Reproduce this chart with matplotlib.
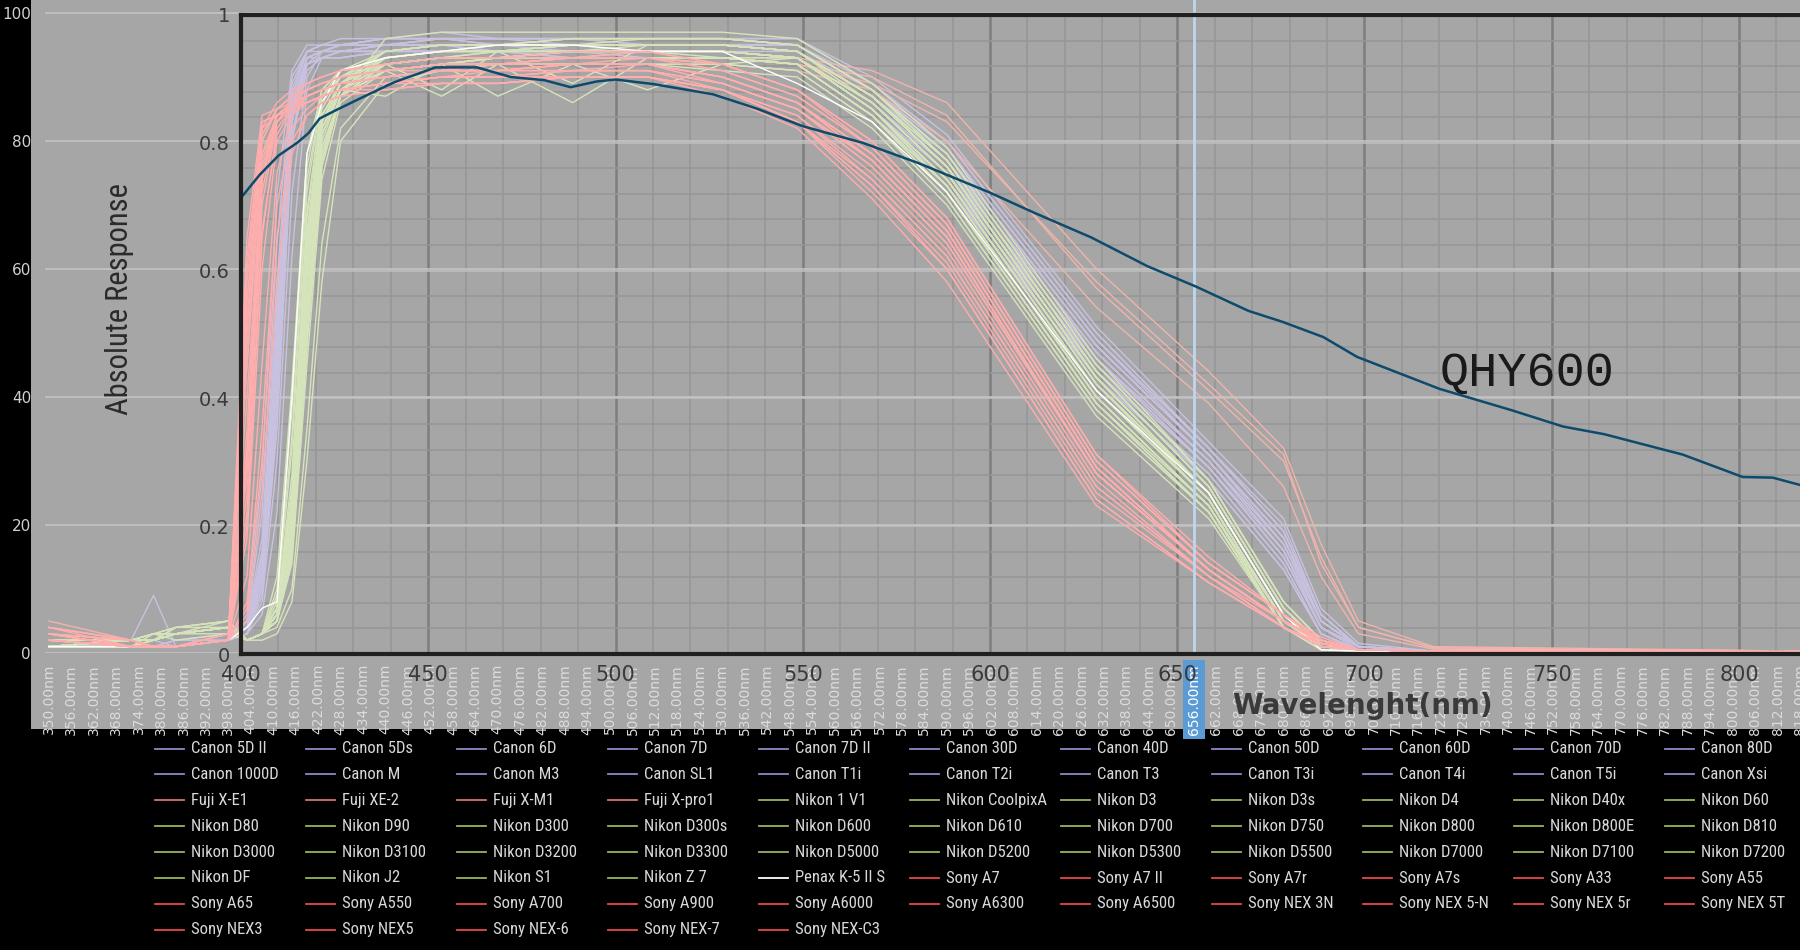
import matplotlib
matplotlib.use("Agg")
import matplotlib.pyplot as plt
from matplotlib.lines import Line2D
from matplotlib.patches import Rectangle
from matplotlib import font_manager
import numpy as np

W, H = 1800, 950

# camera curves: response in % on a shared wavelength grid (nm)
cam_wl = [350, 372, 378, 384, 398, 403, 407, 411, 415, 419, 423, 428, 440, 455,
          470, 490, 510, 530, 550, 570, 590, 630, 660, 680, 690, 700, 720, 818]

canon_names = ["Canon 5D II", "Canon 5Ds", "Canon 6D", "Canon 7D", "Canon 7D II", "Canon 30D",
               "Canon 40D", "Canon 50D", "Canon 60D", "Canon 70D", "Canon 80D", "Canon 1000D",
               "Canon M", "Canon M3", "Canon SL1", "Canon T1i", "Canon T2i", "Canon T3",
               "Canon T3i", "Canon T4i", "Canon T5i", "Canon Xsi"]
canon_resp = [
    [1, 1, 1, 1, 2, 3, 10, 40, 84, 93, 94, 95, 96, 96, 95, 95, 95, 95, 94, 87, 76, 46, 29, 15, 4, 1, 0.3, 0.2],
    [1, 1, 2, 1, 2, 5, 15, 55, 88, 94, 95, 95, 96, 96, 96, 96, 95, 95, 95, 88, 78, 48, 31, 17, 5, 1, 0.3, 0.2],
    [2, 1, 1, 2, 3, 4, 11, 42, 83, 92, 93, 94, 94, 95, 94, 94, 94, 94, 93, 86, 75, 45, 29, 16, 4, 1, 0.3, 0.2],
    [1, 2, 1, 1, 2, 6, 28, 72, 91, 95, 95, 96, 96, 97, 96, 96, 96, 96, 96, 89, 80, 50, 32, 19, 6, 1, 0.3, 0.2],
    [1, 1, 1, 1, 2, 3, 9, 35, 80, 92, 94, 94, 95, 95, 95, 94, 94, 94, 94, 87, 77, 47, 30, 17, 5, 1, 0.3, 0.2],
    [1, 1, 1, 2, 2, 4, 14, 50, 86, 93, 93, 94, 94, 94, 94, 93, 93, 93, 92, 84, 73, 43, 27, 13, 3, 0.5, 0.3, 0.2],
    [1, 1, 1, 1, 3, 5, 16, 52, 87, 94, 94, 95, 95, 95, 95, 95, 94, 94, 93, 85, 74, 44, 28, 14, 3, 0.5, 0.3, 0.2],
    [2, 1, 1, 1, 2, 4, 12, 44, 84, 93, 94, 94, 95, 95, 95, 95, 95, 95, 95, 88, 79, 49, 31, 18, 6, 1, 0.3, 0.2],
    [1, 1, 1, 1, 2, 3, 8, 30, 72, 90, 94, 95, 95, 96, 96, 96, 96, 96, 96, 90, 81, 51, 33, 21, 7, 1.5, 0.3, 0.2],
    [1, 1, 1, 1, 2, 5, 18, 58, 89, 94, 95, 95, 96, 96, 96, 95, 95, 95, 95, 89, 80, 50, 32, 20, 6, 1, 0.3, 0.2],
    [1, 2, 1, 1, 2, 4, 13, 47, 85, 93, 94, 95, 95, 95, 95, 95, 95, 95, 94, 87, 78, 48, 31, 18, 5, 1, 0.3, 0.2],
    [1, 2, 9, 1, 2, 4, 10, 36, 80, 91, 93, 93, 94, 94, 94, 94, 93, 93, 92, 84, 74, 44, 28, 14, 3, 0.5, 0.3, 0.2],
    [1, 1, 1, 1, 2, 4, 13, 48, 86, 93, 94, 94, 95, 95, 95, 95, 95, 95, 94, 87, 77, 47, 30, 16, 5, 1, 0.3, 0.2],
    [1, 1, 1, 1, 2, 5, 22, 64, 90, 94, 95, 95, 95, 96, 96, 96, 95, 95, 95, 88, 79, 49, 32, 19, 6, 1, 0.3, 0.2],
    [2, 1, 1, 2, 2, 4, 11, 41, 83, 92, 93, 94, 94, 95, 94, 94, 94, 94, 93, 86, 76, 46, 30, 16, 4, 1, 0.3, 0.2],
    [1, 1, 1, 1, 2, 3, 6, 22, 62, 88, 93, 93, 94, 94, 94, 94, 94, 94, 93, 85, 75, 45, 29, 15, 4, 0.5, 0.3, 0.2],
    [1, 1, 1, 1, 3, 4, 12, 45, 85, 93, 94, 94, 95, 95, 95, 95, 95, 95, 94, 87, 77, 47, 30, 17, 5, 1, 0.3, 0.2],
    [1, 1, 1, 1, 2, 4, 13, 46, 85, 92, 93, 93, 94, 94, 94, 93, 93, 93, 92, 84, 73, 43, 27, 13, 3, 0.5, 0.3, 0.2],
    [1, 1, 1, 1, 2, 5, 15, 53, 87, 94, 95, 95, 96, 96, 96, 96, 96, 96, 95, 88, 78, 48, 31, 18, 5, 1, 0.3, 0.2],
    [1, 1, 1, 1, 2, 4, 12, 45, 84, 93, 94, 95, 95, 96, 95, 95, 95, 95, 95, 88, 79, 49, 32, 19, 6, 1, 0.3, 0.2],
    [1, 1, 1, 1, 2, 4, 14, 50, 86, 93, 94, 95, 95, 95, 95, 95, 95, 95, 94, 88, 78, 48, 31, 18, 5, 1, 0.3, 0.2],
    [2, 1, 1, 1, 2, 3, 10, 38, 81, 92, 93, 94, 94, 94, 94, 94, 94, 94, 93, 86, 76, 46, 29, 15, 4, 0.5, 0.3, 0.2],
]

fuji_names = ["Fuji X-E1", "Fuji XE-2", "Fuji X-M1", "Fuji X-pro1"]
fuji_resp = [
    [4, 2, 1, 1, 3, 48, 78, 84, 86, 88, 89, 90, 91, 92, 92, 93, 93, 93, 92, 90, 84, 57, 41, 30, 15, 4, 0.8, 0.3],
    [3, 2, 1, 1, 2, 40, 74, 83, 86, 88, 89, 90, 91, 92, 93, 93, 93, 93, 93, 91, 86, 60, 44, 32, 17, 5, 1, 0.3],
    [5, 2, 1, 1, 3, 55, 80, 85, 87, 88, 89, 90, 91, 91, 92, 92, 92, 92, 91, 88, 80, 54, 39, 26, 12, 3, 0.6, 0.3],
    [4, 2, 1, 1, 3, 45, 77, 84, 86, 87, 88, 89, 90, 91, 92, 92, 93, 93, 92, 89, 83, 58, 42, 31, 14, 4, 0.8, 0.3],
]

nikon_names = ["Nikon 1 V1", "Nikon CoolpixA", "Nikon D3", "Nikon D3s", "Nikon D4", "Nikon D40x",
               "Nikon D60", "Nikon D80", "Nikon D90", "Nikon D300", "Nikon D300s", "Nikon D600",
               "Nikon D610", "Nikon D700", "Nikon D750", "Nikon D800", "Nikon D800E", "Nikon D810",
               "Nikon D3000", "Nikon D3100", "Nikon D3200", "Nikon D3300", "Nikon D5000",
               "Nikon D5200", "Nikon D5300", "Nikon D5500", "Nikon D7000", "Nikon D7100",
               "Nikon D7200", "Nikon DF", "Nikon J2", "Nikon S1", "Nikon Z 7"]
nikon_resp = [
    [1, 2, 2, 3, 4, 2, 3, 10, 38, 76, 88, 91, 93, 94, 94, 94, 94, 94, 93, 86, 75, 42, 24, 5, 1, 0.5, 0.3, 0.2],
    [2, 1, 3, 2, 3, 2, 3, 5, 15, 50, 78, 87, 91, 92, 93, 93, 93, 93, 92, 84, 72, 39, 22, 4, 1, 0.5, 0.3, 0.2],
    [1, 2, 2, 4, 5, 2, 3, 6, 22, 62, 83, 89, 92, 88, 94, 89, 95, 95, 94, 87, 76, 43, 25, 6, 1, 0.5, 0.3, 0.2],
    [1, 1, 2, 3, 4, 2, 3, 7, 25, 66, 85, 90, 94, 95, 95, 96, 96, 96, 95, 88, 77, 44, 26, 7, 1.5, 0.5, 0.3, 0.2],
    [1, 2, 3, 3, 4, 2, 3, 6, 20, 58, 81, 88, 92, 93, 93, 94, 94, 94, 93, 85, 74, 41, 24, 5, 1, 0.5, 0.3, 0.2],
    [2, 2, 2, 3, 3, 2, 2, 3, 8, 30, 58, 80, 89, 91, 92, 92, 92, 91, 90, 82, 70, 37, 21, 4, 0.5, 0.3, 0.3, 0.2],
    [1, 2, 2, 3, 4, 2, 3, 5, 14, 45, 74, 86, 91, 92, 93, 93, 93, 92, 91, 83, 71, 38, 22, 4, 1, 0.5, 0.3, 0.2],
    [1, 1, 2, 4, 5, 2, 3, 5, 15, 48, 76, 87, 96, 97, 97, 97, 97, 97, 96, 89, 79, 46, 27, 8, 2, 0.5, 0.3, 0.2],
    [2, 2, 3, 3, 4, 2, 3, 6, 18, 55, 80, 88, 92, 93, 94, 94, 94, 94, 93, 86, 75, 42, 25, 6, 1, 0.5, 0.3, 0.2],
    [1, 2, 2, 3, 4, 2, 3, 7, 26, 68, 86, 90, 93, 94, 94, 95, 95, 95, 94, 87, 76, 43, 25, 6, 1, 0.5, 0.3, 0.2],
    [1, 2, 2, 3, 4, 2, 3, 7, 24, 65, 84, 89, 93, 94, 94, 95, 95, 95, 94, 87, 77, 44, 26, 7, 1.5, 0.5, 0.3, 0.2],
    [1, 1, 2, 3, 4, 2, 3, 6, 20, 60, 82, 88, 91, 87, 92, 86, 93, 93, 93, 85, 74, 41, 24, 5, 1, 0.5, 0.3, 0.2],
    [1, 2, 2, 3, 4, 2, 3, 6, 21, 61, 83, 88, 87, 92, 87, 92, 88, 92, 93, 85, 74, 41, 24, 5, 1, 0.5, 0.3, 0.2],
    [1, 2, 3, 4, 4, 2, 3, 8, 32, 72, 87, 91, 94, 95, 95, 96, 96, 96, 95, 88, 78, 45, 27, 8, 2, 0.5, 0.3, 0.2],
    [1, 1, 2, 3, 4, 2, 3, 6, 19, 57, 81, 88, 92, 93, 93, 94, 94, 94, 93, 85, 73, 40, 23, 4, 1, 0.5, 0.3, 0.2],
    [1, 2, 2, 3, 4, 2, 3, 5, 17, 52, 78, 87, 91, 92, 93, 93, 93, 93, 92, 84, 72, 39, 22, 4, 1, 0.5, 0.3, 0.2],
    [1, 2, 2, 3, 4, 2, 3, 5, 16, 50, 77, 87, 91, 92, 92, 93, 93, 93, 92, 84, 72, 39, 22, 4, 1, 0.5, 0.3, 0.2],
    [1, 2, 2, 3, 5, 2, 3, 6, 18, 54, 79, 87, 92, 93, 93, 94, 94, 94, 93, 85, 74, 41, 24, 5, 1, 0.5, 0.3, 0.2],
    [2, 2, 3, 3, 4, 2, 3, 4, 10, 35, 64, 82, 90, 91, 92, 92, 92, 92, 91, 83, 71, 38, 22, 4, 0.5, 0.3, 0.3, 0.2],
    [1, 2, 2, 3, 4, 2, 3, 6, 20, 59, 82, 88, 93, 94, 94, 95, 95, 95, 94, 87, 76, 43, 25, 6, 1, 0.5, 0.3, 0.2],
    [1, 2, 2, 3, 4, 2, 3, 6, 22, 63, 84, 89, 94, 95, 95, 95, 96, 96, 95, 88, 77, 44, 26, 7, 1.5, 0.5, 0.3, 0.2],
    [1, 1, 2, 3, 4, 2, 3, 6, 21, 62, 83, 89, 93, 94, 95, 95, 95, 95, 94, 87, 76, 43, 25, 6, 1, 0.5, 0.3, 0.2],
    [2, 2, 2, 3, 4, 2, 3, 5, 16, 49, 77, 87, 91, 92, 93, 93, 93, 93, 92, 84, 72, 39, 23, 4, 1, 0.5, 0.3, 0.2],
    [1, 2, 2, 3, 4, 2, 3, 6, 20, 60, 82, 88, 93, 94, 94, 94, 95, 95, 94, 87, 76, 43, 25, 6, 1, 0.5, 0.3, 0.2],
    [1, 2, 2, 3, 4, 2, 3, 7, 23, 64, 84, 89, 94, 95, 95, 95, 95, 95, 94, 87, 77, 44, 26, 7, 1, 0.5, 0.3, 0.2],
    [1, 2, 2, 3, 4, 2, 3, 7, 22, 63, 83, 89, 93, 94, 94, 95, 95, 95, 94, 87, 76, 43, 25, 6, 1, 0.5, 0.3, 0.2],
    [1, 2, 2, 3, 4, 2, 3, 5, 17, 53, 79, 87, 92, 93, 93, 94, 94, 94, 93, 85, 73, 40, 23, 5, 1, 0.5, 0.3, 0.2],
    [1, 2, 2, 3, 4, 2, 3, 6, 21, 61, 83, 88, 93, 94, 94, 95, 95, 95, 94, 86, 75, 42, 25, 6, 1, 0.5, 0.3, 0.2],
    [1, 2, 2, 3, 4, 2, 3, 6, 22, 62, 83, 89, 93, 94, 95, 95, 95, 95, 94, 87, 76, 43, 25, 6, 1, 0.5, 0.3, 0.2],
    [1, 2, 3, 4, 5, 2, 3, 7, 28, 69, 86, 90, 94, 95, 95, 96, 96, 96, 95, 88, 78, 45, 27, 8, 2, 0.5, 0.3, 0.2],
    [1, 2, 2, 3, 4, 2, 3, 12, 42, 78, 88, 91, 92, 93, 93, 93, 93, 93, 92, 84, 73, 40, 23, 5, 1, 0.5, 0.3, 0.2],
    [1, 2, 2, 3, 4, 2, 3, 9, 34, 74, 87, 90, 92, 93, 93, 93, 94, 93, 92, 84, 73, 40, 23, 5, 1, 0.5, 0.3, 0.2],
    [1, 1, 2, 3, 4, 2, 3, 5, 15, 48, 76, 87, 92, 93, 94, 94, 94, 94, 93, 86, 75, 42, 25, 6, 1, 0.5, 0.3, 0.2],
]

penax_names = ["Penax K-5 II S"]
penax_resp = [
    [1, 1, 1, 1, 2, 4, 7, 8, 40, 78, 86, 91, 93, 94, 95, 95, 94, 94, 89, 83, 72, 41, 25, 6, 0.5, 0.3, 0.2, 0.2],
]

sony_names = ["Sony A7", "Sony A7 II", "Sony A7r", "Sony A7s", "Sony A33", "Sony A55", "Sony A65",
              "Sony A550", "Sony A700", "Sony A900", "Sony A6000", "Sony A6300", "Sony A6500",
              "Sony NEX 3N", "Sony NEX 5-N", "Sony NEX 5r", "Sony NEX 5T", "Sony NEX3", "Sony NEX5",
              "Sony NEX-6", "Sony NEX-7", "Sony NEX-C3"]
sony_resp = [
    [3, 1, 1, 1, 2, 35, 78, 84, 86, 87, 88, 89, 90, 91, 92, 92, 92, 90, 86, 78, 66, 29, 13, 5, 2, 0.5, 0.3, 0.2],
    [2, 1, 1, 1, 2, 20, 65, 82, 85, 86, 87, 88, 89, 90, 90, 91, 91, 89, 85, 77, 65, 28, 13, 5, 2, 0.5, 0.3, 0.2],
    [3, 2, 1, 1, 3, 45, 80, 85, 87, 88, 89, 90, 91, 92, 92, 93, 93, 91, 87, 79, 67, 30, 14, 6, 2, 0.5, 0.3, 0.2],
    [4, 1, 1, 1, 2, 60, 83, 84, 85, 86, 87, 88, 89, 90, 90, 90, 90, 88, 84, 75, 63, 27, 12, 5, 1.5, 0.5, 0.3, 0.2],
    [2, 1, 1, 1, 2, 8, 30, 65, 80, 84, 86, 87, 88, 89, 89, 90, 90, 88, 83, 74, 62, 26, 12, 4, 1.5, 0.5, 0.3, 0.2],
    [3, 1, 1, 1, 2, 25, 70, 83, 86, 87, 88, 89, 90, 91, 91, 92, 92, 90, 86, 78, 66, 29, 13, 5, 2, 0.5, 0.3, 0.2],
    [2, 1, 1, 1, 2, 30, 74, 84, 86, 88, 89, 90, 91, 92, 92, 93, 93, 91, 87, 79, 67, 30, 14, 6, 2, 0.5, 0.3, 0.2],
    [3, 2, 1, 1, 2, 7, 35, 70, 82, 85, 87, 88, 89, 90, 91, 91, 91, 89, 85, 76, 64, 28, 13, 5, 2, 0.5, 0.3, 0.2],
    [2, 1, 1, 1, 2, 5, 25, 58, 78, 84, 86, 87, 88, 89, 89, 90, 90, 88, 84, 74, 62, 26, 12, 4, 1.5, 0.5, 0.3, 0.2],
    [3, 1, 1, 1, 2, 18, 60, 80, 84, 86, 87, 88, 89, 90, 90, 91, 91, 88, 83, 73, 60, 24, 11, 4, 1, 0.5, 0.3, 0.2],
    [2, 1, 1, 1, 3, 50, 81, 85, 87, 88, 89, 90, 91, 92, 92, 93, 93, 92, 88, 80, 68, 31, 14, 6, 2, 0.5, 0.3, 0.2],
    [3, 1, 1, 1, 2, 55, 82, 86, 88, 89, 90, 91, 92, 93, 93, 94, 94, 92, 88, 80, 68, 31, 15, 6, 2.5, 0.5, 0.3, 0.2],
    [3, 1, 1, 1, 2, 52, 81, 85, 87, 89, 90, 91, 92, 93, 93, 93, 94, 92, 88, 79, 67, 30, 14, 6, 2, 0.5, 0.3, 0.2],
    [2, 1, 1, 1, 2, 28, 72, 83, 85, 86, 87, 88, 89, 90, 90, 91, 91, 89, 85, 77, 65, 28, 13, 5, 2, 0.5, 0.3, 0.2],
    [3, 1, 1, 1, 2, 32, 76, 84, 86, 87, 88, 89, 90, 91, 91, 92, 92, 90, 86, 78, 66, 29, 13, 5, 2, 0.5, 0.3, 0.2],
    [3, 1, 1, 1, 2, 30, 74, 83, 86, 87, 88, 89, 90, 91, 91, 92, 92, 90, 86, 77, 65, 28, 13, 5, 2, 0.5, 0.3, 0.2],
    [2, 1, 1, 1, 2, 31, 75, 84, 86, 87, 88, 89, 90, 91, 91, 92, 92, 90, 86, 78, 66, 29, 13, 5, 2, 0.5, 0.3, 0.2],
    [4, 2, 1, 1, 2, 65, 84, 85, 86, 86, 87, 88, 89, 89, 89, 90, 90, 87, 82, 71, 58, 23, 11, 4, 1, 0.5, 0.3, 0.2],
    [3, 2, 1, 1, 2, 62, 83, 84, 85, 86, 87, 88, 89, 90, 90, 90, 90, 88, 83, 72, 60, 24, 11, 4, 1, 0.5, 0.3, 0.2],
    [2, 1, 1, 1, 2, 12, 45, 75, 84, 87, 88, 89, 90, 91, 91, 92, 92, 90, 86, 77, 65, 28, 13, 5, 2, 0.5, 0.3, 0.2],
    [3, 1, 1, 1, 2, 22, 66, 81, 85, 87, 88, 89, 90, 91, 91, 91, 92, 89, 85, 76, 64, 28, 13, 5, 2, 0.5, 0.3, 0.2],
    [4, 2, 1, 1, 2, 58, 82, 84, 85, 86, 87, 88, 88, 89, 89, 90, 90, 88, 83, 73, 61, 25, 12, 4, 1.5, 0.5, 0.3, 0.2],
]

# QHY600 absolute QE (0..1)
qhy_wl = [400, 405, 410, 415, 418, 421, 425, 432, 441, 452, 463, 472, 481, 488, 495, 500, 510,
          526, 538, 550, 566, 581, 600, 612, 627, 642, 655, 669, 678, 689, 698, 720, 739, 753,
          764, 785, 801, 809, 816]
qhy_qe = [0.714, 0.75, 0.78, 0.80, 0.815, 0.838, 0.85, 0.87, 0.895, 0.918, 0.918, 0.903, 0.898,
          0.887, 0.896, 0.899, 0.892, 0.876, 0.853, 0.826, 0.80, 0.768, 0.722, 0.69, 0.652,
          0.607, 0.575, 0.537, 0.52, 0.496, 0.465, 0.415, 0.382, 0.356, 0.344, 0.312, 0.277,
          0.276, 0.265]

outer_ticks = list(range(350, 819, 6))
outer_yticks = [0, 20, 40, 60, 80, 100]
inner_xticks = [400, 450, 500, 550, 600, 650, 700, 750, 800]
inner_yticks = [0, 0.2, 0.4, 0.6, 0.8, 1]
inner_ylabels = ["0", "0.2", "0.4", "0.6", "0.8", "1"]

# plot colour / legend colour per brand
groups = [
    (canon_names, canon_resp, "#c9c1e0", "#9585c4"),
    (fuji_names, fuji_resp, "#f0b4ac", "#d8716a"),
    (nikon_names, nikon_resp, "#d6e4bb", "#97b55a"),
    (penax_names, penax_resp, "#ffffff", "#ffffff"),
    (sony_names, sony_resp, "#ffadad", "#e84848"),
]

# a narrow face for the legend and the y title, if one is installed
installed = {f.name for f in font_manager.fontManager.ttflist}
narrow, leg_size, ylab_size = "Liberation Sans", 10.5, 19
for cand in ["Liberation Sans Narrow", "Roboto Condensed", "DejaVu Sans Condensed",
             "Open Sans Condensed", "Noto Sans Condensed"]:
    if cand in installed:
        narrow, leg_size, ylab_size = cand, 12, 22
        break


def fx(px):
    return px / W


def fy(py):
    return 1 - py / H


fig = plt.figure(figsize=(18, 9.5), dpi=100, facecolor="black")
fig.patches.append(Rectangle((fx(31), fy(729)), 1 - fx(31), 729 / H,
                             transform=fig.transFigure, facecolor="#a6a6a6",
                             edgecolor="none", zorder=-1))

inner_rect = [fx(241), fy(654), 1 - fx(241), (654 - 15) / H]
inner_xlim = (400, 400 + (W - 241) / 3.745)

# grid of the QHY chart, below the camera curves
ax_grid = fig.add_axes(inner_rect, zorder=1)
ax_grid.set_facecolor("none")
ax_grid.set_xlim(*inner_xlim)
ax_grid.set_ylim(0, 1)
ax_grid.set_xticks(np.arange(400, 820, 50))
ax_grid.set_xticks(np.arange(400, 820, 10), minor=True)
ax_grid.set_yticks(np.arange(0, 1.01, 0.2))
ax_grid.set_yticks(np.arange(0, 1.01, 0.04), minor=True)
ax_grid.grid(which="minor", color="#969696", lw=1.1)
ax_grid.xaxis.grid(which="major", color="#7e7e7e", lw=1.8)
ax_grid.yaxis.grid(which="major", color="#bdbdbd", lw=1.2)
ax_grid.tick_params(which="both", length=0, labelbottom=False, labelleft=False)
for s in ax_grid.spines.values():
    s.set_visible(False)

# camera chart
ax_out = fig.add_axes([fx(45), fy(653), 1 - fx(45), 653 / H], zorder=2)
ax_out.set_facecolor("none")
ax_out.set_xlim(349, 349 + (W - 45) / 3.75)
ax_out.set_ylim(0, 100 * 653 / 640)
for s in ax_out.spines.values():
    s.set_visible(False)
ax_out.set_axisbelow(True)
ax_out.yaxis.grid(True, color="#c4c4c4", lw=1.2)
ax_out.set_yticks(outer_yticks)
ax_out.set_xticks(outer_ticks)
ax_out.set_xticklabels([f"{t:.2f}nm" for t in outer_ticks], rotation=90)
ax_out.tick_params(axis="x", length=0, pad=8, labelsize=10, labelcolor="#dcdcdc")
ax_out.tick_params(axis="y", length=0, pad=10, labelsize=11, labelcolor="#d0d0d0")

for names, resp, col, _ in groups:
    for vals in resp:
        ax_out.plot(cam_wl, vals, color=col, lw=1.0)

ax_out.axvline(656, color="#bcd8f0", lw=2, zorder=4)
hl = ax_out.get_xticklabels()[outer_ticks.index(656)]
hl.set_color("white")
hl.set_bbox(dict(boxstyle="square,pad=0.3", facecolor="#5b9bd5", edgecolor="none"))

# QHY600 chart on top
ax_in = fig.add_axes(inner_rect, zorder=3)
ax_in.set_facecolor("none")
ax_in.set_xlim(*inner_xlim)
ax_in.set_ylim(0, 1)
ax_in.plot(qhy_wl, qhy_qe, color="#0d4a6b", lw=1.8)
ax_in.text(720, 0.42, "QHY600", family="Liberation Mono", fontsize=35,
           color="#1a1a1a", ha="left", va="baseline")
ax_in.set_xticks(inner_xticks)
ax_in.set_yticks(inner_yticks)
ax_in.set_yticklabels(inner_ylabels)
ax_in.tick_params(length=0, colors="#3a3a3a")
ax_in.tick_params(axis="x", pad=8, labelsize=15)
ax_in.tick_params(axis="y", pad=8, labelsize=14)
for side in ["left", "top", "bottom"]:
    ax_in.spines[side].set_linewidth(3)
    ax_in.spines[side].set_color("#202020")
ax_in.spines["right"].set_visible(False)

fig.text(fx(120), fy(299), "Absolute Response", rotation=90, ha="center", va="center",
         family=narrow, fontsize=ylab_size, color="#2b2b2b", zorder=5)
fig.text(fx(1362), fy(706), "Wavelenght(nm)", ha="center", va="center",
         fontsize=20, fontweight="bold", color="#3a3a3a", zorder=5)

# legend, laid out row by row like the source
entries = []
for names, resp, _, leg_col in groups:
    for n in names:
        entries.append((n, leg_col))
for i, (name, col) in enumerate(entries):
    r, c = divmod(i, 11)
    x0 = 155 + c * 151
    y0 = 748.5 + r * 25.9
    fig.add_artist(Line2D([fx(x0), fx(x0 + 29)], [fy(y0), fy(y0)],
                          transform=fig.transFigure, color=col, lw=1.3))
    fig.text(fx(x0 + 36), fy(y0), name, ha="left", va="center", family=narrow,
             fontsize=leg_size, color="#d9d9d9")

fig.savefig("out.png", dpi=100, facecolor="black")
